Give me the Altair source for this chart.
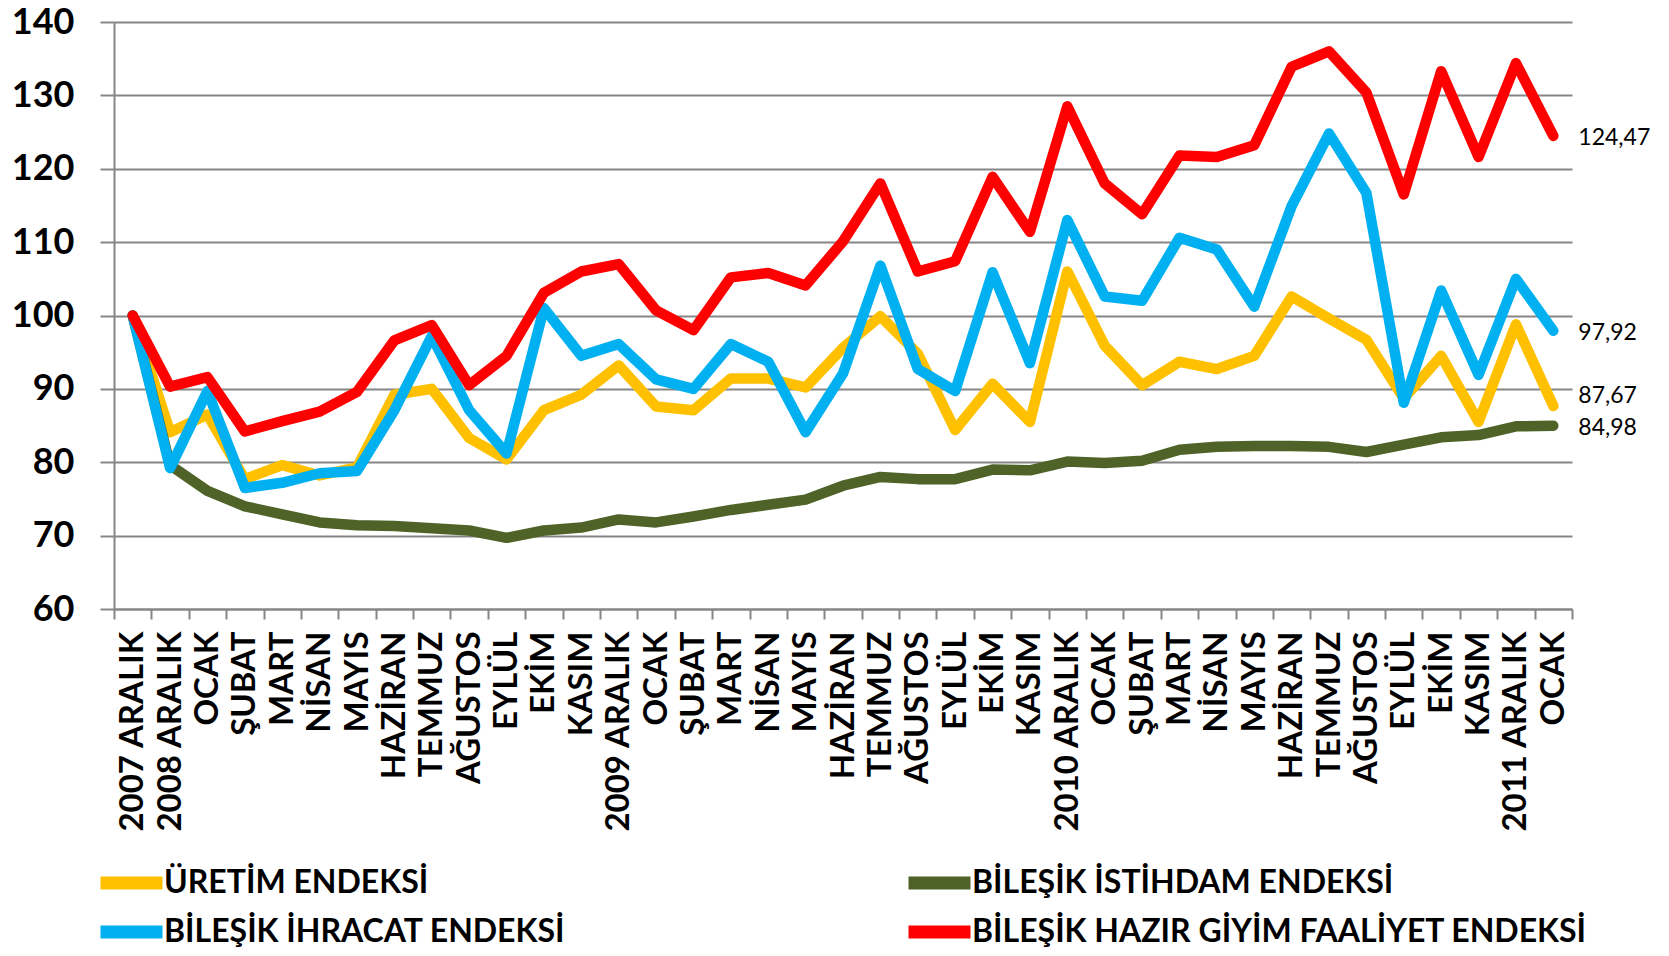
import altair as alt
import pandas as pd

labels = ["2007 ARALIK", "2008 ARALIK", "OCAK", "ŞUBAT", "MART", "NİSAN", "MAYIS", "HAZİRAN",
          "TEMMUZ", "AĞUSTOS", "EYLÜL", "EKİM", "KASIM", "2009 ARALIK", "OCAK", "ŞUBAT", "MART",
          "NİSAN", "MAYIS", "HAZİRAN", "TEMMUZ", "AĞUSTOS", "EYLÜL", "EKİM", "KASIM", "2010 ARALIK",
          "OCAK", "ŞUBAT", "MART", "NİSAN", "MAYIS", "HAZİRAN", "TEMMUZ", "AĞUSTOS", "EYLÜL", "EKİM",
          "KASIM", "2011 ARALIK", "OCAK"]

uretim = [100, 84.1, 86.5, 77.7, 79.6, 78.2, 79.3, 89.2, 90.0, 83.3, 80.4, 87.1, 89.2, 93.2, 87.6,
          87.1, 91.4, 91.4, 90.2, 95.6, 99.9, 94.8, 84.4, 90.7, 85.5, 106.0, 95.9, 90.5, 93.7, 92.7,
          94.5, 102.6, 99.6, 96.7, 88.7, 94.5, 85.5, 98.8, 87.67]
istihdam = [100, 79.6, 76.1, 74.0, 72.9, 71.8, 71.4, 71.3, 71.0, 70.7, 69.7, 70.7, 71.1, 72.2, 71.8,
            72.6, 73.5, 74.2, 74.9, 76.8, 78.0, 77.7, 77.7, 79.0, 78.9, 80.1, 79.9, 80.2, 81.7, 82.1,
            82.2, 82.2, 82.1, 81.4, 82.4, 83.4, 83.7, 84.9, 84.98]
ihracat = [100, 79.2, 89.7, 76.5, 77.2, 78.5, 78.8, 87.1, 97.2, 87.1, 81.2, 101.0, 94.5, 96.1, 91.3,
           90.0, 96.1, 93.7, 84.1, 92.1, 106.8, 92.7, 89.7, 105.9, 93.5, 113.0, 102.6, 102.0, 110.6,
           109.0, 101.2, 114.9, 124.8, 116.7, 88.1, 103.4, 91.9, 105.0, 97.92]
hazir = [100, 90.3, 91.6, 84.2, 85.6, 86.9, 89.6, 96.6, 98.7, 90.5, 94.5, 103.1, 106.0, 107.0, 100.7,
         98.0, 105.2, 105.8, 104.1, 110.1, 118.0, 106.0, 107.4, 118.9, 111.4, 128.5, 118.0, 113.8,
         121.8, 121.6, 123.2, 133.9, 136.0, 130.4, 116.5, 133.3, 121.6, 134.4, 124.47]

series_names = ["ÜRETİM ENDEKSİ", "BİLEŞİK İSTİHDAM ENDEKSİ", "BİLEŞİK İHRACAT ENDEKSİ",
                "BİLEŞİK HAZIR GİYİM FAALİYET ENDEKSİ"]
series_colors = ["#FFC000", "#4F6228", "#00B0F0", "#FF0000"]
legend_order = ["ÜRETİM ENDEKSİ", "BİLEŞİK İHRACAT ENDEKSİ", "BİLEŞİK İSTİHDAM ENDEKSİ",
                "BİLEŞİK HAZIR GİYİM FAALİYET ENDEKSİ"]
end_labels = ["87,67", "84,98", "97,92", "124,47"]
label_dy = [-10, 2, 2, 2]
y_ticks = [60, 70, 80, 90, 100, 110, 120, 130, 140]

rows = []
end_rows = []
for name, vals, lab in zip(series_names, [uretim, istihdam, ihracat, hazir], end_labels):
    for i, v in enumerate(vals):
        rows.append({"idx": i, "s": name, "v": v})
    end_rows.append({"idx": len(vals) - 1, "s": name, "v": vals[-1], "lab": lab})
df = pd.DataFrame(rows)
df_end = pd.DataFrame(end_rows)

grey = "#868686"
label_expr = "[" + ",".join("'" + l + "'" for l in labels) + "][datum.value]"

x_enc = alt.X(
    "idx:O",
    bandPosition=0.5,
    scale=alt.Scale(type="band", paddingInner=0, paddingOuter=0),
    axis=alt.Axis(
        title=None, labelExpr=label_expr, labelAngle=270, labelFont="Lato",
        labelFontWeight="bold", labelFontSize=33, labelColor="black", labelPadding=12,
        labelLimit=500, tickBand="extent", tickSize=10, tickColor=grey, tickWidth=2,
        domainColor=grey, domainWidth=2, labelOverlap=False, grid=False,
    ),
)
y_enc = alt.Y(
    "v:Q",
    scale=alt.Scale(domain=[60, 140], nice=False, zero=False),
    axis=alt.Axis(
        title=None, values=y_ticks, labelFont="Lato", labelFontWeight="bold",
        labelFontSize=36, labelColor="black", labelPadding=26, tickSize=14,
        tickColor=grey, tickWidth=2, gridColor=grey, gridWidth=2,
        domainColor=grey, domainWidth=2,
    ),
)

legend = alt.Legend(
    title=None, orient="none", legendX=-14, legendY=837, columns=2, columnPadding=342,
    rowPadding=1, clipHeight=48, symbolType="M-1.24,0H1.24", symbolSize=2500,
    symbolStrokeWidth=13, labelFont="Lato", labelFontWeight="bold", labelFontSize=32,
    labelColor="black", labelOffset=1, labelLimit=1000, values=legend_order,
)
color_scale = alt.Scale(domain=series_names, range=series_colors)

layers = []
for k, name in enumerate(series_names):
    c = alt.Color("s:N", scale=color_scale, legend=legend)
    line = (
        alt.Chart(df)
        .transform_filter(alt.datum.s == name)
        .mark_line(strokeWidth=10.5, strokeCap="round", strokeJoin="round")
        .encode(x=x_enc, y=y_enc, color=c)
    )
    layers.append(line)

for k, name in enumerate(series_names):
    txt = (
        alt.Chart(df_end)
        .transform_filter(alt.datum.s == name)
        .mark_text(align="left", baseline="middle", dx=25, dy=label_dy[k], font="Lato",
                   fontSize=23, color="black")
        .encode(x=x_enc, y=y_enc, text="lab:N")
    )
    layers.append(txt)

chart = (
    alt.layer(*layers)
    .properties(
        width=1458, height=587,
        autosize=alt.AutoSizeParams(type="none"),
        padding={"left": 106, "top": 14, "right": 89, "bottom": 339},
        background="white",
    )
    .configure_view(stroke=None)
)

chart.save("out.html", embed_options={"renderer": "svg", "actions": False})
